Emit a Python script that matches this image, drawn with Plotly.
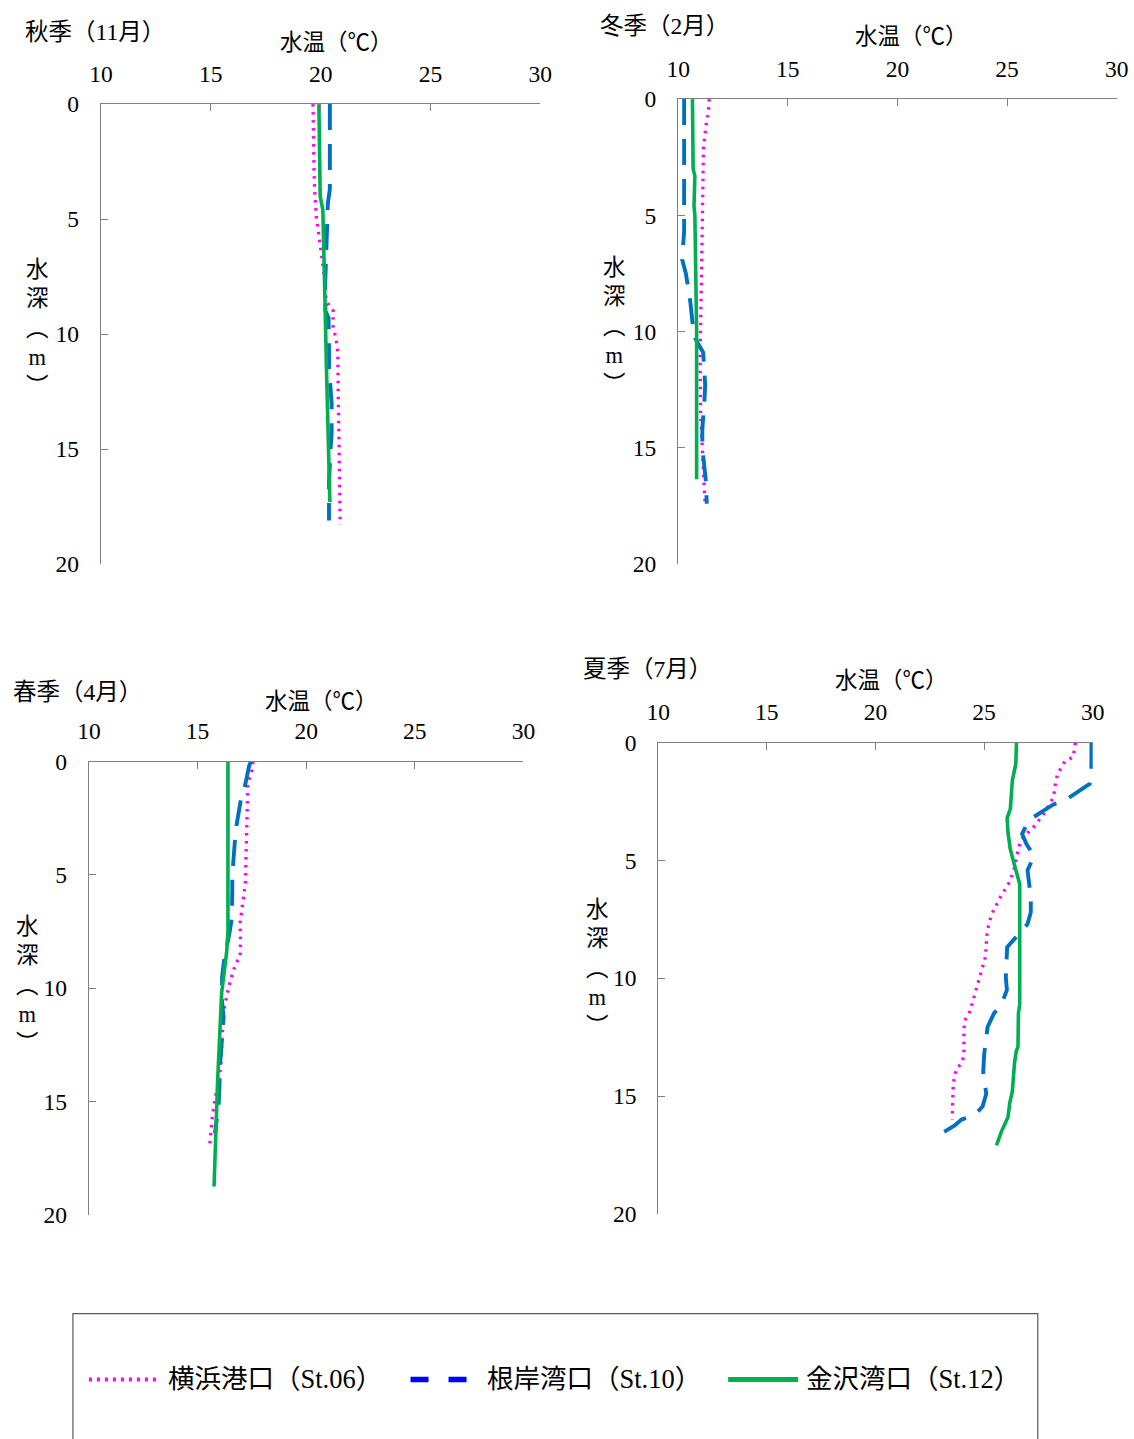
import plotly.graph_objects as go

W, H = 1134, 1439          # window / figure size (body margin removed via post_script)
# empirical correction between page pixels and the photographed picture
SX, AX = 0.98, 11.0
SY, AY = 0.984, 10.7

# ---------------- data ----------------
stations = ["横浜港口（St.06）", "根岸湾口（St.10）", "金沢湾口（St.12）"]
seasons = ["秋季（11月）", "冬季（2月）", "春季（4月）", "夏季（7月）"]
x_ticks = [10, 15, 20, 25, 30]
y_ticks = [0, 5, 10, 15, 20]

# Autumn (Nov)
aut_yoko_d = [0, 1, 2, 3, 4, 4.9, 5.9, 7.5, 8.5, 8.8, 9.0, 9.6, 10.2, 10.8, 12.5, 15, 18.3]
aut_yoko_t = [19.65, 19.66, 19.68, 19.7, 19.74, 19.8, 19.95, 20.17, 20.25, 20.4, 20.58, 20.55, 20.7, 20.78, 20.8, 20.84, 20.89]
aut_negi_d = [0, 1.5, 3.7, 4.3, 6.8, 8, 9.0, 9.3, 10.6, 11.5, 13, 14.3, 15, 16.5, 18.1]
aut_negi_t = [20.42, 20.42, 20.42, 20.33, 20.23, 20.2, 20.22, 20.36, 20.38, 20.38, 20.5, 20.5, 20.45, 20.38, 20.38]
aut_kana_d = [0, 4, 4.6, 7, 8.6, 11.3, 14, 17.3]
aut_kana_t = [19.92, 19.98, 20.1, 20.18, 20.2, 20.26, 20.34, 20.42]

# Winter (Feb)
win_yoko_d = [0, 0.6, 0.9, 1.6, 2.1, 4.1, 7, 9.7, 11, 13.5, 14.9, 16, 17.5]
win_yoko_t = [11.41, 11.38, 11.3, 11.2, 11.15, 11.12, 11.06, 11.03, 11.0, 11.02, 11.1, 11.18, 11.23]
win_negi_d = [0, 0.9, 1.9, 3.2, 3.9, 5.1, 5.7, 6.9, 7.5, 8.7, 9.3, 10.2, 10.9, 12.3, 12.9, 14.2, 15, 16.1, 16.5, 17.4]
win_negi_t = [10.27, 10.27, 10.27, 10.3, 10.3, 10.27, 10.27, 10.18, 10.35, 10.55, 10.62, 10.72, 11.14, 11.23, 11.2, 11.1, 11.1, 11.22, 11.27, 11.3]
win_kana_d = [0, 3.0, 3.3, 4.6, 5, 8, 10, 16.35]
win_kana_t = [10.65, 10.68, 10.76, 10.72, 10.76, 10.8, 10.84, 10.84]

# Spring (Apr)
spr_yoko_d = [0, 0.4, 1.0, 1.5, 5.4, 7.1, 8.0, 8.6, 8.9, 9.6, 10.2, 11, 12.8, 13.5, 14.2, 14.9, 15.6, 16.9]
spr_yoko_t = [17.55, 17.5, 17.3, 17.3, 17.2, 16.96, 16.98, 16.96, 16.76, 16.53, 16.38, 16.2, 16.1, 16.06, 15.96, 15.8, 15.69, 15.56]
spr_negi_d = [0, 0.2, 1.0, 1.7, 3.0, 3.7, 5.0, 5.7, 6.9, 7.5, 8.8, 9.5, 10.5, 11.3, 12.4, 13.2, 14.5, 15.2, 16.4]
spr_negi_t = [17.45, 17.37, 17.2, 16.99, 16.76, 16.7, 16.6, 16.6, 16.58, 16.48, 16.22, 16.13, 16.12, 16.2, 16.1, 16.05, 16.0, 15.97, 15.8]
spr_kana_d = [0, 7.5, 8.4, 10.2, 14.2, 18.75]
spr_kana_t = [16.4, 16.4, 16.34, 16.11, 15.92, 15.76]

# Summer (Jul)
sum_yoko_d = [0, 0.6, 0.8, 1.3, 1.6, 2.3, 2.7, 3.1, 3.6, 4.0, 4.4, 4.9, 5.3, 5.9, 6.6, 7.3, 8.0, 9.1, 9.96, 10.7, 11.4, 11.8, 12.2, 13.3, 13.6, 13.9, 14.5, 16.0]
sum_yoko_t = [29.2, 29.1, 28.71, 28.4, 28.3, 28.2, 27.95, 27.69, 27.26, 26.8, 26.6, 26.49, 26.4, 26.18, 25.72, 25.34, 25.14, 25.06, 24.8, 24.57, 24.35, 24.11, 24.07, 24.07, 23.96, 23.7, 23.58, 23.53]
sum_negi_d = [0, 1.0, 1.75, 2.1, 2.4, 2.63, 3.28, 3.87, 4.3, 4.8, 5.42, 6.55, 7.2, 7.7, 8.23, 8.68, 9.96, 10.5, 11.1, 11.5, 12.07, 13.27, 14.0, 14.9, 15.45, 15.8, 16.0, 16.25, 16.46, 16.6]
sum_negi_t = [29.94, 29.94, 29.86, 29.3, 28.8, 28.17, 27.07, 26.75, 26.95, 27.3, 27.0, 27.15, 27.15, 27.0, 26.52, 26.06, 26.0, 26.05, 25.8, 25.45, 25.16, 25.0, 24.96, 25.1, 24.93, 24.57, 23.96, 23.65, 23.27, 22.99]
sum_kana_d = [0, 0.9, 1.6, 2.8, 3.2, 3.5, 3.8, 4.5, 5.2, 5.4, 6.0, 8.0, 11.1, 11.5, 12.9, 13.1, 13.6, 14.8, 15.3, 15.9, 16.5, 17.1]
sum_kana_t = [26.49, 26.46, 26.3, 26.21, 26.06, 26.06, 26.1, 26.2, 26.37, 26.46, 26.64, 26.64, 26.64, 26.58, 26.56, 26.48, 26.4, 26.3, 26.18, 26.1, 25.8, 25.57]

panel_data = [
    [(aut_yoko_t, aut_yoko_d), (aut_negi_t, aut_negi_d), (aut_kana_t, aut_kana_d)],
    [(win_yoko_t, win_yoko_d), (win_negi_t, win_negi_d), (win_kana_t, win_kana_d)],
    [(spr_yoko_t, spr_yoko_d), (spr_negi_t, spr_negi_d), (spr_kana_t, spr_kana_d)],
    [(sum_yoko_t, sum_yoko_d), (sum_negi_t, sum_negi_d), (sum_kana_t, sum_kana_d)],
]

# ---------------- styling / layout ----------------
line_styles = [
    dict(color="#FF00FF", width=3.3, dash="2.5px,5.5px"),
    dict(color="#0070C0", width=3.9, dash="26px,14px"),
    dict(color="#00B050", width=3.6, dash="solid"),
]
legend_styles = [
    dict(color="#FF00FF", width=4, dash="3px,5px"),
    dict(color="#0000FF", width=5.5, dash="18px,20px"),
    dict(color="#00B050", width=5, dash="solid"),
]
legend_sample_px = [(88, 160), (410, 468), (728, 798)]
legend_text_px = [165, 485, 804]
LEG_Y = 1380

# pixel boxes of the plot areas (picture pixels): (left, right, top, bottom)
boxes = [(100, 540, 102, 563), (678, 1117, 97, 563), (88, 523, 761, 1215), (658, 1093, 742, 1214)]
season_pos = [(22, 30), (598, 24), (10, 691), (581, 668)]
xtitle_pos = [(336, 38), (912, 32), (321, 698), (892, 677)]
ytitle_pos = [(37, 326), (614, 324), (27, 985), (597, 968)]

FONT = "Liberation Serif, Noto Sans CJK JP"
CJK = "Noto Sans CJK JP, Liberation Serif"
AXC = "#808080"


def px(x):
    return ((x - AX) / SX) / W


def py(y):
    return 1 - ((y - AY) / SY) / H


fig = go.Figure()
layout = dict(
    width=W, height=H, margin=dict(l=0, r=0, t=0, b=0),
    paper_bgcolor="white", plot_bgcolor="white",
    showlegend=False,
    font=dict(family=FONT, size=22, color="#000000"),
)
annotations = []
shapes = []

for i, (l, r, t, b) in enumerate(boxes):
    sfx = "" if i == 0 else str(i + 1)
    layout["xaxis" + sfx] = dict(
        domain=[px(l), px(r)], range=[10, 30], anchor="y" + sfx, side="top",
        tickvals=x_ticks, ticks="inside", ticklen=7, tickcolor=AXC,
        showline=True, linecolor=AXC, linewidth=1.3, showgrid=False, zeroline=False,
        tickfont=dict(family=FONT, size=23.5, color="#000"), ticklabelstandoff=12,
    )
    layout["yaxis" + sfx] = dict(
        domain=[py(b), py(t)], range=[20, 0], anchor="x" + sfx,
        tickvals=y_ticks, ticks="inside", ticklen=7, tickcolor=AXC,
        showline=True, linecolor=AXC, linewidth=1.3, showgrid=False, zeroline=False,
        tickfont=dict(family=FONT, size=23.5, color="#000"), ticklabelstandoff=16,
    )
    for k, (temps, depths) in enumerate(panel_data[i]):
        fig.add_trace(go.Scatter(
            x=temps, y=depths, mode="lines", line=line_styles[k], name=stations[k],
            xaxis="x" + sfx, yaxis="y" + sfx, showlegend=False, hoverinfo="skip",
        ))
    sx, sy = season_pos[i]
    annotations.append(dict(text=seasons[i], x=px(sx), y=py(sy), xref="paper", yref="paper",
                            xanchor="left", yanchor="middle", showarrow=False,
                            font=dict(family=FONT, size=23.5)))
    tx, ty = xtitle_pos[i]
    annotations.append(dict(text="水温（℃）", x=px(tx), y=py(ty), xref="paper", yref="paper",
                            xanchor="center", yanchor="middle", showarrow=False,
                            font=dict(family=CJK, size=22.5)))
    yx, yy = ytitle_pos[i]
    annotations.append(dict(text="水<br>深<br>︵<br>m<br>︶", x=px(yx), y=py(yy), xref="paper", yref="paper",
                            xanchor="center", yanchor="middle", showarrow=False,
                            font=dict(family=FONT, size=22.5)))

# manual legend (long line samples like the original)
for k, name in enumerate(stations):
    x0, x1 = legend_sample_px[k]
    shapes.append(dict(type="line", xref="paper", yref="paper",
                       x0=px(x0), x1=px(x1), y0=py(LEG_Y), y1=py(LEG_Y),
                       line=legend_styles[k]))
    annotations.append(dict(text=name, x=px(legend_text_px[k]), y=py(LEG_Y), xref="paper", yref="paper",
                            xanchor="left", yanchor="middle", showarrow=False,
                            font=dict(family=FONT, size=26.5)))

shapes.append(dict(type="rect", xref="paper", yref="paper",
                   x0=px(72), x1=px(1038), y0=py(1314), y1=py(1480),
                   line=dict(color="#595959", width=1.2)))
layout["shapes"] = shapes
layout["annotations"] = annotations
fig.update_layout(**layout)

fig.write_html("out.html", config={"displayModeBar": False},
               post_script="document.body.style.margin='0';document.body.style.overflow='hidden';")
